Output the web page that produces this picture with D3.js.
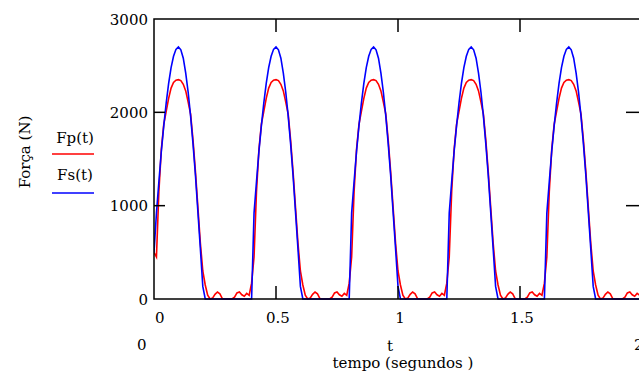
<!DOCTYPE html>
<html>
<head>
<meta charset="utf-8">
<script src="https://cdn.jsdelivr.net/npm/d3@7"></script>
<style>
  body { margin: 0; background: #fff; }
</style>
</head>
<body>
<svg width="639" height="374"></svg>
<script>
// Sample step of the curves (seconds)
const dt = 0.01;

// Fp(t), one line per 0.4 s period
const fp = [
  500, 450, 1150, 1600, 1870, 2010, 2150, 2260, 2320, 2345, 2350, 2340, 2300, 2230, 2110, 1980, 1700, 1360, 980, 600, 300, 150, 40, 0, 10, 50, 75, 55, 5, 0, 0, 0, 0, 20, 65, 75, 45, 30, 60, 40,
  170, 450, 1150, 1600, 1870, 2010, 2150, 2260, 2320, 2345, 2350, 2340, 2300, 2230, 2110, 1980, 1700, 1360, 980, 600, 300, 150, 40, 0, 10, 50, 75, 55, 5, 0, 0, 0, 0, 20, 65, 75, 45, 30, 60, 40,
  170, 450, 1150, 1600, 1870, 2010, 2150, 2260, 2320, 2345, 2350, 2340, 2300, 2230, 2110, 1980, 1700, 1360, 980, 600, 300, 150, 40, 0, 10, 50, 75, 55, 5, 0, 0, 0, 0, 20, 65, 75, 45, 30, 60, 40,
  170, 450, 1150, 1600, 1870, 2010, 2150, 2260, 2320, 2345, 2350, 2340, 2300, 2230, 2110, 1980, 1700, 1360, 980, 600, 300, 150, 40, 0, 10, 50, 75, 55, 5, 0, 0, 0, 0, 20, 65, 75, 45, 30, 60, 40,
  170, 450, 1150, 1600, 1870, 2010, 2150, 2260, 2320, 2345, 2350, 2340, 2300, 2230, 2110, 1980, 1700, 1360, 980, 600, 300, 150, 40, 0, 10, 50, 75, 55, 5, 0, 0, 0, 0, 20, 65, 75, 45, 30, 60, 40,
  170
];

// Fs(t)
const fs = [
  500, 920, 1255, 1580, 1855, 2100, 2310, 2480, 2600, 2675, 2700, 2670, 2580, 2420, 2215, 1960, 1660, 1320, 930, 540, 135, 0, 0, 0, 0, 0, 0, 0, 0, 0, 0, 0, 0, 0, 0, 0, 0, 0, 0, 0,
  0, 920, 1255, 1580, 1855, 2100, 2310, 2480, 2600, 2675, 2700, 2670, 2580, 2420, 2215, 1960, 1660, 1320, 930, 540, 135, 0, 0, 0, 0, 0, 0, 0, 0, 0, 0, 0, 0, 0, 0, 0, 0, 0, 0, 0,
  0, 920, 1255, 1580, 1855, 2100, 2310, 2480, 2600, 2675, 2700, 2670, 2580, 2420, 2215, 1960, 1660, 1320, 930, 540, 135, 0, 0, 0, 0, 0, 0, 0, 0, 0, 0, 0, 0, 0, 0, 0, 0, 0, 0, 0,
  0, 920, 1255, 1580, 1855, 2100, 2310, 2480, 2600, 2675, 2700, 2670, 2580, 2420, 2215, 1960, 1660, 1320, 930, 540, 135, 0, 0, 0, 0, 0, 0, 0, 0, 0, 0, 0, 0, 0, 0, 0, 0, 0, 0, 0,
  0, 920, 1255, 1580, 1855, 2100, 2310, 2480, 2600, 2675, 2700, 2670, 2580, 2420, 2215, 1960, 1660, 1320, 930, 540, 135, 0, 0, 0, 0, 0, 0, 0, 0, 0, 0, 0, 0, 0, 0, 0, 0, 0, 0, 0,
  0
];

const xTicks = [0, 0.5, 1, 1.5];
const xTickLabels = ["0", "0.5", "1", "1.5"];
const yTicks = [0, 1000, 2000, 3000];

// Plot box
const box = { l: 154, r: 642, t: 19, b: 299 };

const svg = d3.select("svg");

const x = d3.scaleLinear().domain([0, 2]).range([box.l, box.r]);
const y = d3.scaleLinear().domain([0, 3000]).range([box.b, box.t]);

const line = d3.line()
  .x((d, i) => x(i * dt))
  .y(d => y(d));

// Curves (clipped to the box)
svg.append("clipPath").attr("id", "clip")
  .append("rect")
    .attr("x", box.l).attr("y", box.t - 2)
    .attr("width", box.r - box.l).attr("height", box.b - box.t + 4);

const plot = svg.append("g").attr("clip-path", "url(#clip)");

plot.append("path")
  .datum(fp)
  .attr("fill", "none")
  .attr("stroke", "#ff0000")
  .attr("stroke-width", 1.6)
  .attr("d", line);

plot.append("path")
  .datum(fs)
  .attr("fill", "none")
  .attr("stroke", "#0000ff")
  .attr("stroke-width", 1.6)
  .attr("d", line);

// Frame
svg.append("rect")
  .attr("x", box.l).attr("y", box.t)
  .attr("width", box.r - box.l).attr("height", box.b - box.t)
  .attr("fill", "none")
  .attr("stroke", "#000")
  .attr("stroke-width", 1.5);

// Inward ticks on all four sides
const inner = xTicks.filter(v => v > 0);
svg.selectAll(".tt").data(inner).enter().append("line")
  .attr("x1", d => x(d)).attr("x2", d => x(d))
  .attr("y1", box.t).attr("y2", box.t + 13)
  .attr("stroke", "#000").attr("stroke-width", 1.5);
svg.selectAll(".tb").data(inner).enter().append("line")
  .attr("x1", d => x(d)).attr("x2", d => x(d))
  .attr("y1", box.b).attr("y2", box.b - 13)
  .attr("stroke", "#000").attr("stroke-width", 1.5);

const yInner = yTicks.filter(v => v > 0 && v < 3000);
svg.selectAll(".tl").data(yInner).enter().append("line")
  .attr("x1", box.l).attr("x2", box.l + 11)
  .attr("y1", d => y(d)).attr("y2", d => y(d))
  .attr("stroke", "#000").attr("stroke-width", 1.5);
svg.selectAll(".tr").data(yInner).enter().append("line")
  .attr("x1", box.r).attr("x2", box.r - 16)
  .attr("y1", d => y(d)).attr("y2", d => y(d))
  .attr("stroke", "#000").attr("stroke-width", 1.5);

// Tick labels
svg.selectAll(".yl").data(yTicks).enter().append("text")
  .attr("x", box.l - 6)
  .attr("y", d => y(d))
  .attr("dy", "0.37em")
  .attr("text-anchor", "end")
  .text(d => d);

svg.selectAll(".xl").data(xTicks).enter().append("text")
  .attr("x", (d, i) => i === 0 ? box.l + 1 : x(d) + 2)
  .attr("y", 323)
  .attr("text-anchor", (d, i) => i === 0 ? "start" : "middle")
  .text((d, i) => xTickLabels[i]);

// Range limits and axis titles (Mathcad style)
svg.append("text").attr("x", 137).attr("y", 350).text("0");
svg.append("text").attr("x", 634).attr("y", 350).text("2");
svg.append("text").attr("x", 390).attr("y", 351).attr("text-anchor", "middle").text("t");
svg.append("text").attr("x", 403).attr("y", 368).attr("text-anchor", "middle").text("tempo (segundos )");

svg.append("text")
  .attr("transform", "translate(30,152) rotate(-90)")
  .attr("text-anchor", "middle")
  .text("Força (N)");

// Legend
svg.append("text").attr("x", 75).attr("y", 143).attr("text-anchor", "middle").text("Fp(t)");
svg.append("line").attr("x1", 52).attr("x2", 94).attr("y1", 154).attr("y2", 154)
  .attr("stroke", "#ff0000").attr("stroke-width", 1.6);
svg.append("text").attr("x", 75).attr("y", 180).attr("text-anchor", "middle").text("Fs(t)");
svg.append("line").attr("x1", 52).attr("x2", 94).attr("y1", 193).attr("y2", 193)
  .attr("stroke", "#0000ff").attr("stroke-width", 1.6);

// Serif face on every label
svg.selectAll("text")
  .attr("font-family", "'DejaVu Serif', serif")
  .attr("font-size", 15)
  .attr("fill", "#000");
</script>
</body>
</html>
